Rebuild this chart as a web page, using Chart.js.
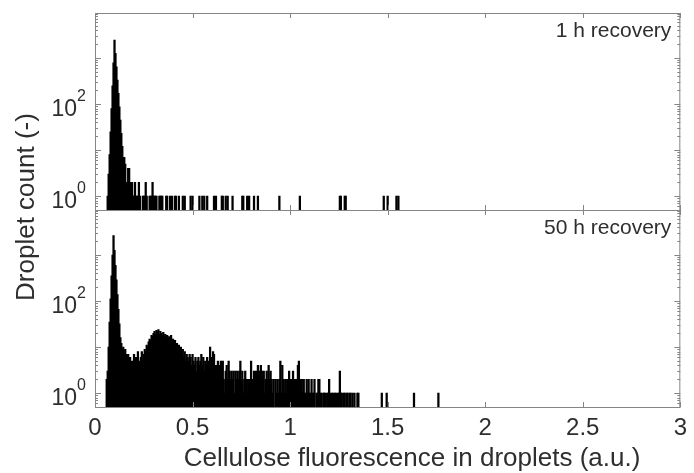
<!DOCTYPE html>
<html>
<head>
<meta charset="utf-8">
<script src="https://cdn.jsdelivr.net/npm/chart.js@4.4.1/dist/chart.umd.min.js"></script>
<style>
  body { margin: 0; background: #fff; }
</style>
</head>
<body>
<canvas id="histChart" width="694" height="473"></canvas>
<script>
// histogram bins: counts start at binStart, one bin every binWidth
const binStart = 0.06;
const binWidth = 0.005;

// 1 h recovery
const topCounts = [
  0, 1, 3, 8, 25, 80, 250, 790, 2450, 1260,
  645, 330, 170, 87, 45, 23, 12, 7, 7, 5,
  2, 2, 4, 4, 2, 1, 2, 1, 1, 2,
  1, 1, 1, 2, 1, 0, 0, 1, 1, 1,
  2, 1, 0, 0, 1, 1, 1, 2, 1, 1,
  1, 1, 0, 0, 1, 1, 1, 1
];
const topTailX = [0.365, 0.370, 0.385, 0.395, 0.410, 0.415, 0.430, 0.450, 0.460, 0.490,
  0.500, 0.535, 0.550, 0.560, 0.575, 0.610, 0.620, 0.650, 0.655, 0.670,
  0.680, 0.705, 0.755, 0.760, 0.780, 0.790, 0.815, 0.835, 0.945, 1.050,
  1.255, 1.260, 1.280, 1.285, 1.480, 1.500, 1.545, 1.555];
const topTailCounts = [1, 1, 1, 1, 1, 1, 1, 1, 1, 1,
  1, 1, 1, 1, 1, 1, 1, 1, 1, 1,
  1, 1, 1, 1, 1, 1, 1, 1, 1, 1,
  1, 1, 1, 1, 1, 1, 1, 1];

// 50 h recovery
const bottomCounts = [
  2, 3, 10, 35, 112, 355, 1000, 2640, 1260, 600,
  290, 138, 66, 32, 16, 12, 9, 10, 8, 9,
  7, 6, 7, 5, 6, 3, 5, 2, 7, 4,
  6, 3, 8, 5, 2, 6, 8, 5, 7, 9,
  8, 11, 10, 13, 15, 14, 18, 17, 20, 22,
  19, 23, 21, 24, 19, 22, 20, 18, 21, 17,
  19, 16, 18, 15, 17, 14, 18, 13, 15, 11,
  14, 10, 12, 9, 11, 8, 10, 7, 9, 6,
  8, 5, 7, 6, 5, 7, 6, 4, 7, 5,
  4, 6, 3, 5, 6, 4, 5, 7, 4, 6,
  3, 5, 4, 6, 3, 5, 10, 4, 6, 8,
  7, 3, 4, 2, 5, 3, 4, 5, 3, 5,
  2, 1, 3, 4, 2, 5, 3, 2, 3, 2,
  3, 1, 3, 2, 3, 2, 3, 5, 2, 3,
  1, 2, 3, 2, 1, 2, 0, 2, 5, 2,
  1, 3, 2, 3, 2, 4, 3, 2, 4, 3,
  2, 3, 1, 2, 3, 2, 4, 2, 3, 2,
  1, 2, 0, 2, 1, 2, 1, 2, 5, 1,
  4, 2, 1, 2, 1, 2, 1, 3, 1, 2,
  1, 3, 1, 2, 1, 2, 4, 5, 2, 1,
  2, 1, 2, 1, 1, 2, 1, 2, 1, 1,
  2, 1, 1, 2, 0, 1, 1, 2, 2, 1,
  1, 0, 1, 1, 1, 0, 1, 1, 2, 1,
  0, 1, 1, 0, 1, 1, 0, 1, 1, 3,
  1, 1, 0, 1, 1, 0, 1, 1, 0, 1,
  1, 0, 1, 0, 1, 0, 0, 1, 1
];
const bottomTailX = [1.470, 1.495, 1.635, 1.760];
const bottomTailCounts = [1, 1, 1, 1];

const panelLabels = ['1 h recovery', '50 h recovery'];
const xTicks = [0, 0.5, 1, 1.5, 2, 2.5, 3];
const yTickExponents = [0, 2];
const xTitle = 'Cellulose fluorescence in droplets (a.u.)';
const yTitle = 'Droplet count (-)';

const textColor = '#2e2e2e';
const frameColor = '#858585';
const fontFamily = '"Liberation Sans", Arial, sans-serif';

function toPoints(counts, tailX, tailCounts) {
  const pts = counts.map((c, i) => ({ x: +(binStart + i * binWidth).toFixed(3), y: c > 0 ? c : null }));
  tailX.forEach((x, i) => pts.push({ x: x, y: tailCounts[i] }));
  return pts;
}

// frames, inward ticks, log tick labels, panel labels, axis titles
const panelDecor = {
  id: 'panelDecor',
  afterDatasetsDraw(chart) {
    const ctx = chart.ctx;
    const xs = chart.scales.x;
    const left = chart.chartArea.left;
    const right = chart.chartArea.right;
    ['yTop', 'yBottom'].forEach((id, p) => {
      const s = chart.scales[id];
      ctx.save();
      ctx.strokeStyle = frameColor;
      ctx.lineWidth = 1;
      ctx.strokeRect(left + 0.5, Math.round(s.top) + 0.5, right - left - 1, Math.round(s.bottom - s.top));
      ctx.beginPath();
      for (let e = -1; e <= 4; e++) {
        for (let m = 1; m <= 9; m++) {
          const v = m * Math.pow(10, e);
          if (v < s.min || v > s.max) continue;
          const py = Math.round(s.getPixelForValue(v)) + 0.5;
          const len = m === 1 ? 6 : 3;
          ctx.moveTo(left, py); ctx.lineTo(left + len, py);
          ctx.moveTo(right, py); ctx.lineTo(right - len, py);
        }
      }
      xTicks.forEach(t => {
        const px = Math.round(xs.getPixelForValue(t)) + 0.5;
        ctx.moveTo(px, s.bottom); ctx.lineTo(px, s.bottom - 5);
        ctx.moveTo(px, s.top); ctx.lineTo(px, s.top + 5);
      });
      ctx.stroke();

      ctx.fillStyle = textColor;
      yTickExponents.forEach(ex => {
        const py = s.getPixelForValue(Math.pow(10, ex));
        ctx.font = '23px ' + fontFamily;
        ctx.textAlign = 'right';
        ctx.textBaseline = 'alphabetic';
        ctx.fillText('10', 77, py + 12);
        ctx.font = '16px ' + fontFamily;
        ctx.textAlign = 'left';
        ctx.fillText(String(ex), 77, py - 3);
      });

      ctx.font = '21px ' + fontFamily;
      ctx.textAlign = 'right';
      ctx.textBaseline = 'alphabetic';
      ctx.fillText(panelLabels[p], right - 9, s.top + 24);
      ctx.restore();
    });

    ctx.save();
    ctx.fillStyle = textColor;
    ctx.font = '26px ' + fontFamily;
    ctx.textAlign = 'center';
    ctx.textBaseline = 'alphabetic';
    ctx.fillText(xTitle, 412, 466);
    ctx.translate(27, 207);
    ctx.rotate(-Math.PI / 2);
    ctx.textBaseline = 'middle';
    ctx.fillText(yTitle, 0, 0);
    ctx.restore();
  }
};

const barStyle = {
  backgroundColor: '#000',
  borderWidth: 0,
  barThickness: 1.6,
  grouped: false
};

const logAxis = (weight) => ({
  type: 'logarithmic',
  position: 'left',
  stack: 'panels',
  stackWeight: weight,
  min: 0.5,
  max: 9500,
  grid: { display: false },
  border: { display: false },
  ticks: { display: false },
  afterFit: s => { s.width = 95; }
});

new Chart(document.getElementById('histChart').getContext('2d'), {
  type: 'bar',
  data: {
    datasets: [
      Object.assign({ label: panelLabels[0], data: toPoints(topCounts, topTailX, topTailCounts), yAxisID: 'yTop' }, barStyle),
      Object.assign({ label: panelLabels[1], data: toPoints(bottomCounts, bottomTailX, bottomTailCounts), yAxisID: 'yBottom' }, barStyle)
    ]
  },
  options: {
    responsive: false,
    animation: false,
    devicePixelRatio: 1,
    layout: { padding: { top: 13, right: 8, left: 0, bottom: 0 } },
    plugins: { legend: { display: false }, tooltip: { enabled: false } },
    scales: {
      x: {
        type: 'linear',
        min: 0,
        max: 3,
        offset: false,
        grid: { display: false, drawTicks: false },
        border: { display: false },
        afterBuildTicks: s => { s.ticks = xTicks.map(v => ({ value: v })); },
        ticks: {
          color: textColor,
          font: { family: fontFamily, size: 24 },
          padding: 7,
          maxRotation: 0,
          callback: v => String(v)
        },
        afterFit: s => { s.height = 66; }
      },
      yBottom: logAxis(1),
      yTop: logAxis(1)
    }
  },
  plugins: [panelDecor]
});
</script>
</body>
</html>
